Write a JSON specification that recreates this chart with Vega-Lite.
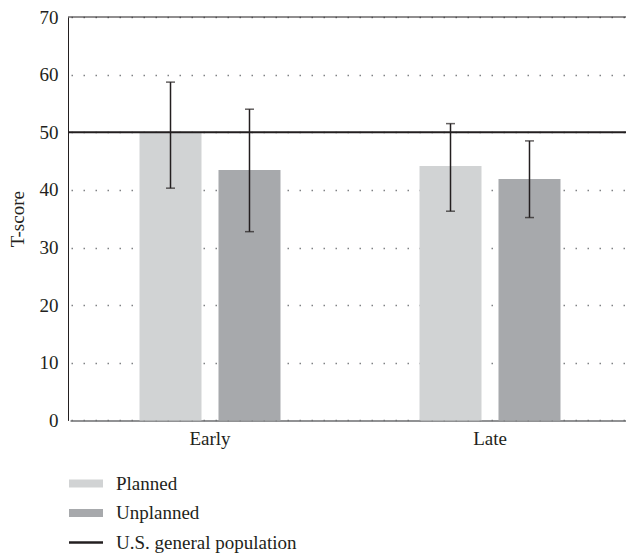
{
  "$schema": "https://vega.github.io/schema/vega-lite/v6.json",
  "width": 558,
  "height": 403.4,
  "autosize": {"type": "none"},
  "padding": {"left": 68, "top": 17, "right": 0, "bottom": 132.6},
  "config": {
    "view": {"stroke": null},
    "font": "Liberation Serif"
  },
  "layer": [
    {
      "data": {"values": [
        {"phase": "Early", "group": "Planned", "mean": 50.0, "lo": 40.3, "hi": 58.7},
        {"phase": "Early", "group": "Unplanned", "mean": 43.45, "lo": 32.75, "hi": 54.0},
        {"phase": "Late", "group": "Planned", "mean": 44.15, "lo": 36.3, "hi": 51.5},
        {"phase": "Late", "group": "Unplanned", "mean": 41.9, "lo": 35.2, "hi": 48.5}
      ]},
      "encoding": {
        "x": {
          "field": "phase", "type": "nominal", "title": null,
          "scale": {"paddingInner": 0, "paddingOuter": 0, "range": [2, 562]},
          "axis": {
            "labelFontSize": 19, "labelColor": "#231f20", "labelPadding": 9, "ticks": false,
            "domainColor": "#6d6e71", "domainWidth": 1.5, "grid": false, "labelAngle": 0,
            "labelFont": "Liberation Serif"
          }
        },
        "xOffset": {"field": "group", "type": "nominal", "scale": {"domain": ["Planned", "Unplanned"], "paddingInner": 0.215, "paddingOuter": 0.88}}
      },
      "layer": [
        {
          "mark": {"type": "bar"},
          "encoding": {
            "y": {
              "field": "mean", "type": "quantitative", "title": "T-score",
              "scale": {"domain": [0, 70], "nice": false},
              "axis": {
                "values": [0, 10, 20, 30, 40, 50, 60, 70],
                "labelFontSize": 19, "labelColor": "#231f20", "labelPadding": 10, "ticks": false,
                "labelFont": "Liberation Serif",
                "domainColor": "#231f20", "domainWidth": 1, "gridColor": "#808285", "gridDash": [1.5, 10.5],
                "gridWidth": 1.5, "gridDashOffset": 11, "titleFontSize": 19, "titleFontWeight": "normal",
                "titleFont": "Liberation Serif", "titleColor": "#231f20", "titlePadding": 12
              }
            },
            "color": {
              "field": "group", "type": "nominal",
              "scale": {"domain": ["Planned", "Unplanned", "U.S. general population"], "range": ["#d1d3d4", "#a7a9ac", "#231f20"]},
              "legend": {
                "orient": "none", "legendX": 8.5, "legendY": 457, "direction": "vertical", "title": null,
                "symbolSize": 289, "symbolType": "M-2,-0.47L2,-0.47L2,0.47L-2,0.47Z",
                "labelOffset": 20.5, "rowPadding": 9.5, "labelFontSize": 19, "labelColor": "#231f20",
                "labelFont": "Liberation Serif", "labelLimit": 400, "symbolStrokeWidth": 0,
                "encode": {"symbols": {"update": {
                  "shape": {"signal": "datum.value === 'U.S. general population' ? 'M-2,-0.15L2,-0.15L2,0.15L-2,0.15Z' : 'M-2,-0.47L2,-0.47L2,0.47L-2,0.47Z'"},
                  "fill": {"scale": "color", "field": "value"},
                  "fillOpacity": {"value": 1},
                  "strokeWidth": {"value": 0}
                }}}
              }
            }
          }
        },
        {
          "mark": {"type": "rule", "color": "#231f20", "strokeWidth": 1.5},
          "encoding": {
            "y": {"field": "lo", "type": "quantitative", "title": "T-score"},
            "y2": {"field": "hi"}
          }
        },
        {
          "mark": {"type": "tick", "color": "#231f20", "thickness": 1.5, "size": 9, "orient": "horizontal"},
          "encoding": {"y": {"field": "lo", "type": "quantitative", "title": "T-score"}}
        },
        {
          "mark": {"type": "tick", "color": "#231f20", "thickness": 1.5, "size": 9, "orient": "horizontal"},
          "encoding": {"y": {"field": "hi", "type": "quantitative", "title": "T-score"}}
        }
      ]
    },
    {
      "data": {"values": [{"group": "U.S. general population", "value": 50}]},
      "mark": {"type": "rule", "strokeWidth": 2.2},
      "encoding": {
        "y": {"field": "value", "type": "quantitative", "title": "T-score"},
        "color": {
          "field": "group", "type": "nominal",
          "scale": {"domain": ["Planned", "Unplanned", "U.S. general population"], "range": ["#d1d3d4", "#a7a9ac", "#231f20"]}
        }
      }
    },
    {
      "data": {"values": [{"value": 70}]},
      "mark": {"type": "rule", "color": "#231f20", "strokeWidth": 1.2},
      "encoding": {"y": {"field": "value", "type": "quantitative", "title": "T-score"}}
    }
  ]
}
